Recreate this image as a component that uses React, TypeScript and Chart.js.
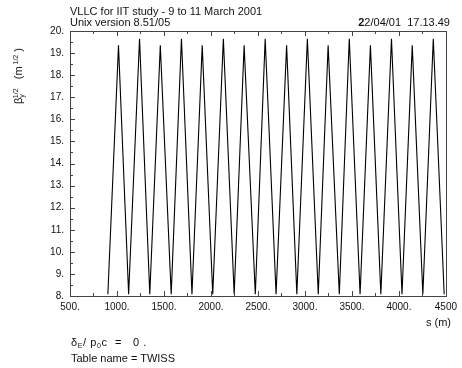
import React, { useEffect, useRef } from "react";
import { Chart, registerables } from "chart.js";

Chart.register(...registerables);

// s positions (m): alternating trough / peak of sqrt(beta_y)
const sValues = [
  903, 1016, 1124, 1240, 1349, 1461, 1577, 1686, 1798, 1907, 2019, 2132, 2247,
  2353, 2472, 2577, 2693, 2805, 2914, 3026, 3142, 3247, 3366, 3472, 3587, 3697,
  3808, 3921, 4033, 4142, 4255, 4366, 4482,
];
// sqrt(beta_y) values (m^1/2)
const betaValues = [
  8.08, 19.35, 8.08, 19.65, 8.08, 19.35, 8.08, 19.65, 8.08, 19.35, 8.08, 19.65,
  8.08, 19.35, 8.08, 19.65, 8.08, 19.35, 8.08, 19.65, 8.08, 19.35, 8.08, 19.65,
  8.08, 19.35, 8.08, 19.65, 8.08, 19.35, 8.08, 19.65, 8.08,
];
const xMin = 500;
const xMax = 4500;
const xStep = 500;
const yMin = 8;
const yMax = 20;
const yStep = 1;

const FONT = "'Liberation Sans', Arial, Helvetica, sans-serif";

const framePlugin = {
  id: "frameTicks",
  afterDatasetsDraw(chart: any) {
    const { ctx, chartArea, scales } = chart;
    const { left, right, top, bottom } = chartArea;
    const xs = scales.x;
    const ys = scales.y;
    ctx.save();
    ctx.strokeStyle = "#444";
    ctx.lineWidth = 1;
    ctx.beginPath();
    for (let v = xMin; v <= xMax + 1e-6; v += xStep / 2) {
      const px = Math.round(xs.getPixelForValue(v)) + 0.5;
      const major = Math.abs((v - xMin) % xStep) < 1e-6;
      const len = major ? 5 : 3;
      ctx.moveTo(px, bottom);
      ctx.lineTo(px, bottom - len);
      ctx.moveTo(px, top);
      ctx.lineTo(px, top + len);
    }
    for (let v = yMin; v <= yMax + 1e-6; v += yStep / 2) {
      const py = Math.round(ys.getPixelForValue(v)) + 0.5;
      const major = Math.abs((v - yMin) % yStep) < 1e-6;
      const len = major ? 5 : 3;
      ctx.moveTo(left, py);
      ctx.lineTo(left + len, py);
    }
    ctx.stroke();
    ctx.strokeRect(
      Math.round(left) + 0.5,
      Math.round(top) + 0.5,
      Math.round(right - left),
      Math.round(bottom - top)
    );
    ctx.restore();
  },
};

export default function App() {
  const ref = useRef<HTMLCanvasElement | null>(null);
  useEffect(() => {
    if (!ref.current) return;
    const data = sValues.map((s, i) => ({ x: s, y: betaValues[i] }));
    const chart = new Chart(ref.current, {
      type: "line",
      data: {
        datasets: [
          {
            data,
            borderColor: "#000",
            borderWidth: 1.1,
            pointRadius: 0,
            tension: 0,
            fill: false,
          },
        ],
      },
      options: {
        animation: false,
        responsive: false,
        layout: { padding: { left: 0, right: 12, top: 31, bottom: 52 } },
        plugins: {
          legend: { display: false },
          tooltip: { enabled: false },
          title: { display: false },
        },
        scales: {
          x: {
            type: "linear",
            min: xMin,
            max: xMax,
            grid: { display: false, drawTicks: false },
            border: { display: false },
            afterFit: (s: any) => {
              s.height = 20;
            },
            ticks: {
              stepSize: xStep,
              padding: 5,
              color: "#111",
              font: { family: FONT, size: 10 },
              maxRotation: 0,
              autoSkip: false,
              callback: (v: any) => (v === xMax ? String(v) : v + "."),
            },
          },
          y: {
            type: "linear",
            min: yMin,
            max: yMax,
            grid: { display: false, drawTicks: false },
            border: { display: false },
            afterFit: (s: any) => {
              s.width = 70;
            },
            ticks: {
              stepSize: yStep,
              padding: 6,
              color: "#111",
              font: { family: FONT, size: 10 },
              autoSkip: false,
              callback: (v: any) => v + ".",
            },
          },
        },
      },
      plugins: [framePlugin],
    });
    return () => chart.destroy();
  }, []);

  const txt: React.CSSProperties = {
    position: "absolute",
    fontFamily: FONT,
    fontSize: 11,
    color: "#111",
    whiteSpace: "nowrap",
    lineHeight: "12px",
  };
  const sup: React.CSSProperties = { fontSize: 7, verticalAlign: 4 };
  const sub: React.CSSProperties = { fontSize: 7, verticalAlign: -2 };

  return (
    <div style={{ position: "absolute", left: 0, top: 0, width: 462, height: 368, background: "#fff" }}>
      <canvas ref={ref} width={462} height={368} style={{ display: "block" }} />
      <div style={{ ...txt, left: 70, top: 5 }}>VLLC for IIT study - 9 to 11 March 2001</div>
      <div style={{ ...txt, left: 70, top: 16 }}>Unix version 8.51/05</div>
      <div style={{ ...txt, right: 12, top: 16 }}>
        <b>2</b>2/04/01&nbsp;&nbsp;17.13.49
      </div>
      <div
        style={{
          ...txt,
          left: 19,
          top: 76,
          transform: "translate(-50%, -50%) rotate(-90deg)",
        }}
      >
        β<span style={sub}>y</span>
        <span style={{ ...sup, marginLeft: -4 }}>1/2</span>&nbsp;&nbsp;&nbsp;(m<span style={sup}>&nbsp;1/2</span>&nbsp;)
      </div>
      <div style={{ ...txt, right: 11, top: 316 }}>s (m)</div>
      <div style={{ ...txt, left: 71, top: 336, letterSpacing: 0.6 }}>
        δ<span style={sub}>E</span>/&nbsp;p<span style={sub}>0</span>c&nbsp;&nbsp;=&nbsp;&nbsp;&nbsp;0&nbsp;.
      </div>
      <div style={{ ...txt, left: 71, top: 352 }}>Table name = TWISS</div>
    </div>
  );
}
